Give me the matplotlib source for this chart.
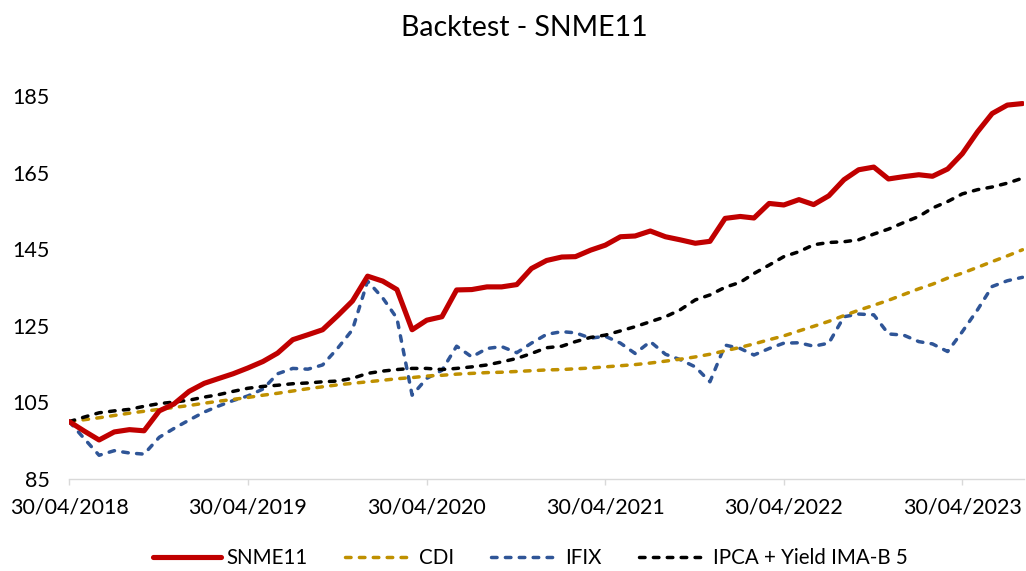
import matplotlib
matplotlib.use("Agg")
import matplotlib.pyplot as plt
import matplotlib.dates as mdates
import pandas as pd

plt.rcParams['font.family'] = ['Lato', 'DejaVu Sans']

# Monthly dates (month ends), 30/04/2018 .. 31/08/2023
dates = pd.date_range('2018-04-30', periods=65, freq='ME')

snme11 = [100.0, 97.5, 95.2, 97.3, 97.9, 97.6, 102.8, 104.6, 107.9, 110.0,
          111.2, 112.5, 114.0, 115.7, 117.9, 121.4, 122.7, 124.0, 127.7, 131.5,
          138.0, 136.7, 134.5, 124.0, 126.5, 127.4, 134.4, 134.5, 135.2, 135.2,
          135.8, 140.0, 142.1, 143.0, 143.1, 144.8, 146.1, 148.3, 148.5, 149.8,
          148.3, 147.5, 146.6, 147.1, 153.1, 153.6, 153.2, 157.0, 156.6, 158.0,
          156.7, 159.0, 163.2, 165.8, 166.5, 163.4, 164.0, 164.5, 164.1, 166.0,
          170.0, 175.7, 180.5, 182.7, 183.1]

cdi = [100.0, 100.5, 101.0, 101.6, 102.2, 102.7, 103.2, 103.7, 104.2, 104.8,
       105.3, 105.8, 106.3, 106.9, 107.4, 108.0, 108.6, 109.1, 109.6, 110.0,
       110.4, 110.8, 111.2, 111.5, 111.9, 112.1, 112.4, 112.6, 112.8, 112.9,
       113.1, 113.3, 113.5, 113.6, 113.8, 114.0, 114.3, 114.6, 114.9, 115.3,
       115.8, 116.3, 116.9, 117.6, 118.5, 119.4, 120.3, 121.4, 122.4, 123.7,
       124.9, 126.2, 127.7, 129.1, 130.4, 131.7, 133.2, 134.7, 135.9, 137.5,
       138.8, 140.3, 141.8, 143.3, 144.9]

ifix = [100.0, 95.5, 91.2, 92.4, 91.8, 91.5, 95.9, 98.2, 100.4, 102.5,
        104.0, 105.5, 106.7, 108.5, 112.5, 113.9, 113.7, 114.8, 119.2, 124.0,
        136.7, 132.3, 127.0, 106.9, 111.3, 113.4, 119.7, 116.9, 119.1, 119.6,
        118.0, 120.5, 122.8, 123.5, 123.2, 121.8, 122.3, 120.5, 117.8, 120.9,
        117.6, 116.2, 114.3, 110.4, 120.0, 119.1, 117.4, 119.1, 120.5, 120.6,
        119.7, 120.5, 127.4, 128.1, 127.9, 122.9, 122.6, 120.9, 120.3, 118.3,
        123.5, 129.2, 135.3, 136.8, 137.7]

ipca_imab5 = [100.0, 101.2, 102.3, 102.8, 103.2, 104.0, 104.7, 105.1, 105.6, 106.4,
              107.0, 107.9, 108.7, 109.2, 109.5, 109.9, 110.1, 110.4, 110.6, 111.3,
              112.6, 113.2, 113.6, 113.9, 113.9, 113.6, 113.9, 114.3, 114.8, 115.6,
              116.5, 117.8, 119.3, 119.7, 120.9, 122.0, 122.6, 123.7, 124.8, 126.1,
              127.4, 129.2, 131.8, 133.1, 135.1, 136.4, 138.7, 140.9, 143.1, 144.4,
              146.2, 146.8, 147.0, 147.5, 149.0, 150.3, 152.0, 153.6, 155.8, 157.5,
              159.5, 160.6, 161.3, 162.3, 163.6]

series_names = ['SNME11', 'CDI', 'IFIX', 'IPCA + Yield IMA-B 5']
y_ticks = [85, 105, 125, 145, 165, 185]
x_tick_dates = pd.to_datetime(['2018-04-30', '2019-04-30', '2020-04-30',
                               '2021-04-30', '2022-04-30', '2023-04-30'])
title = 'Backtest - SNME11'

fig = plt.figure(figsize=(10.26, 5.71), dpi=100)
ax = fig.add_axes([0.0675, 0.1611, 0.998 - 0.0675, 0.8984 - 0.1611])

dash = (1.6, 2.4)
styles = [
    dict(color='#C00000', lw=3.7, solid_capstyle='round', solid_joinstyle='round'),
    dict(color='#BF9000', lw=2.5, dashes=dash, dash_capstyle='round', dash_joinstyle='round'),
    dict(color='#2F5597', lw=2.5, dashes=dash, dash_capstyle='round', dash_joinstyle='round'),
    dict(color='#000000', lw=2.5, dashes=dash, dash_capstyle='round', dash_joinstyle='round'),
]
data = [snme11, cdi, ifix, ipca_imab5]
z = [5, 3, 2, 4]
lines = []
for name, vals, st, zz in zip(series_names, data, styles, z):
    ln, = ax.plot(dates, vals, label=name, zorder=zz, **st)
    lines.append(ln)

ax.set_ylim(85, 195)
ax.set_yticks(y_ticks)
ax.set_xlim(dates[0], dates[-1] + pd.Timedelta(days=3))
ax.set_xticks(x_tick_dates)
ax.xaxis.set_major_formatter(mdates.DateFormatter('%d/%m/%Y'))

for s in ['top', 'right', 'left']:
    ax.spines[s].set_visible(False)
ax.spines['bottom'].set_color('#D9D9D9')
ax.spines['bottom'].set_linewidth(1.0)
ax.tick_params(axis='x', colors='#D9D9D9', length=4.5, width=1.0, pad=9,
               labelcolor='#000000', labelsize=15.5)
ax.tick_params(axis='y', length=0, pad=14, labelcolor='#000000', labelsize=15.5)

fig.text(0.511, 0.951, title, ha='center', va='center', fontsize=20.5, color='#000000')

fig.legend(lines, series_names, loc='center', bbox_to_anchor=(0.5166, 0.022),
           ncol=4, frameon=False, fontsize=14.8, handlelength=3.3,
           handletextpad=0.3, columnspacing=1.8)

fig.savefig('out.png', dpi=100)
